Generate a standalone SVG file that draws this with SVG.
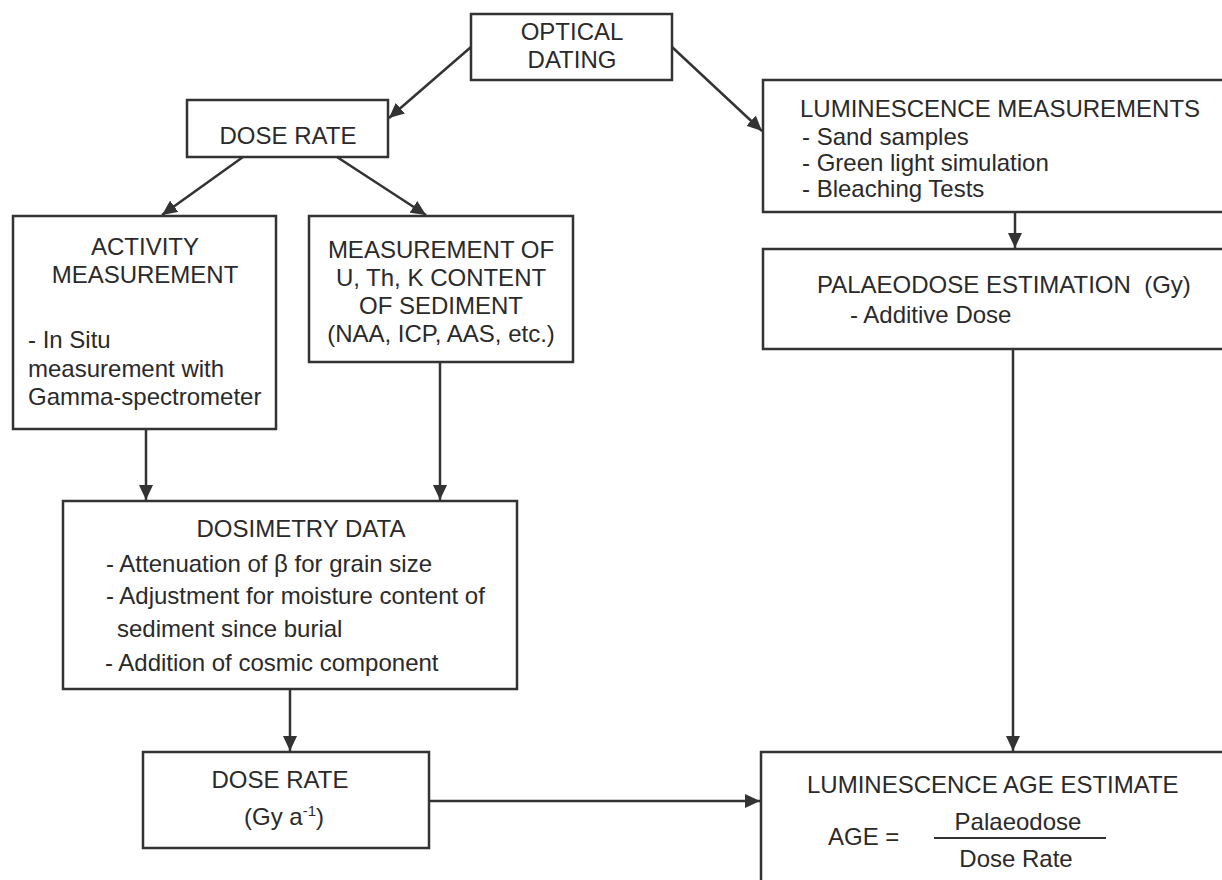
<svg xmlns="http://www.w3.org/2000/svg" width="1222" height="880" viewBox="0 0 1222 880">
<style>
.box{fill:#fff;stroke:#333;stroke-width:2.5}
.t{font-family:"Liberation Sans",Arial,sans-serif;font-size:24px;fill:#2a2a2a}
.c{text-anchor:middle}
.conn{stroke:#333;stroke-width:2.5;fill:none;marker-end:url(#ah)}
</style>
<defs>
<marker id="ah" markerUnits="userSpaceOnUse" markerWidth="16" markerHeight="14" refX="15" refY="7" orient="auto">
<path d="M0,0 L15,7 L0,14 z" fill="#333"/>
</marker>
</defs>
<rect width="1222" height="880" fill="#fff"/>
<g id="connectors">
<line class="conn" x1="471" y1="47" x2="389" y2="118"/>
<line class="conn" x1="672" y1="47" x2="762" y2="131"/>
<line class="conn" x1="243" y1="157" x2="162" y2="215"/>
<line class="conn" x1="337" y1="157" x2="426" y2="215"/>
<line class="conn" x1="146" y1="429" x2="146" y2="500"/>
<line class="conn" x1="440" y1="362" x2="440" y2="500"/>
<line class="conn" x1="290" y1="689" x2="290" y2="751"/>
<line class="conn" x1="429" y1="801" x2="760" y2="801"/>
<line class="conn" x1="1015" y1="212" x2="1015" y2="248"/>
<line class="conn" x1="1013" y1="349" x2="1013" y2="751"/>
</g>
<g id="optical-dating">
<rect class="box" x="471" y="14" width="201" height="66"/>
<text class="t c" x="572" y="40">OPTICAL</text>
<text class="t c" x="572" y="68">DATING</text>
</g>
<g id="dose-rate-top">
<rect class="box" x="187" y="100" width="201" height="57"/>
<text class="t c" x="288" y="144">DOSE RATE</text>
</g>
<g id="activity">
<rect class="box" x="13" y="216" width="263" height="213"/>
<text class="t c" x="145" y="255">ACTIVITY</text>
<text class="t c" x="145" y="283">MEASUREMENT</text>
<text class="t" x="28" y="348">- In Situ</text>
<text class="t" x="28" y="377">measurement with</text>
<text class="t" x="28" y="405">Gamma-spectrometer</text>
</g>
<g id="measurement">
<rect class="box" x="309" y="216" width="264" height="146"/>
<text class="t c" x="441" y="258">MEASUREMENT OF</text>
<text class="t c" x="441" y="286">U, Th, K CONTENT</text>
<text class="t c" x="441" y="314">OF SEDIMENT</text>
<text class="t c" x="441" y="342">(NAA, ICP, AAS, etc.)</text>
</g>
<g id="luminescence">
<rect class="box" x="763" y="80" width="480" height="132"/>
<text class="t" x="800" y="117">LUMINESCENCE MEASUREMENTS</text>
<text class="t" x="802" y="145">- Sand samples</text>
<text class="t" x="802" y="171">- Green light simulation</text>
<text class="t" x="802" y="197">- Bleaching Tests</text>
</g>
<g id="palaeodose">
<rect class="box" x="763" y="249" width="480" height="100"/>
<text class="t" x="817" y="293" xml:space="preserve">PALAEODOSE ESTIMATION  (Gy)</text>
<text class="t" x="850" y="323">- Additive Dose</text>
</g>
<g id="dosimetry">
<rect class="box" x="63" y="501" width="454" height="188"/>
<text class="t c" x="301" y="537">DOSIMETRY DATA</text>
<text class="t" x="106" y="572">- Attenuation of β for grain size</text>
<text class="t" x="106" y="604">- Adjustment for moisture content of</text>
<text class="t" x="117" y="637">sediment since burial</text>
<text class="t" x="105" y="671">- Addition of cosmic component</text>
</g>
<g id="dose-rate-bottom">
<rect class="box" x="143" y="752" width="286" height="96"/>
<text class="t c" x="280" y="788">DOSE RATE</text>
<text class="t c" x="284" y="825">(Gy a<tspan font-size="15" dy="-9">-1</tspan><tspan dy="9">)</tspan></text>
</g>
<g id="age-estimate">
<rect class="box" x="761" y="752" width="480" height="150"/>
<text class="t" x="807" y="793">LUMINESCENCE AGE ESTIMATE</text>
<text class="t" x="828" y="845">AGE =</text>
<line x1="934" y1="838" x2="1106" y2="838" stroke="#333" stroke-width="2"/>
<text class="t c" x="1018" y="830">Palaeodose</text>
<text class="t c" x="1016" y="867">Dose Rate</text>
</g>
</svg>
